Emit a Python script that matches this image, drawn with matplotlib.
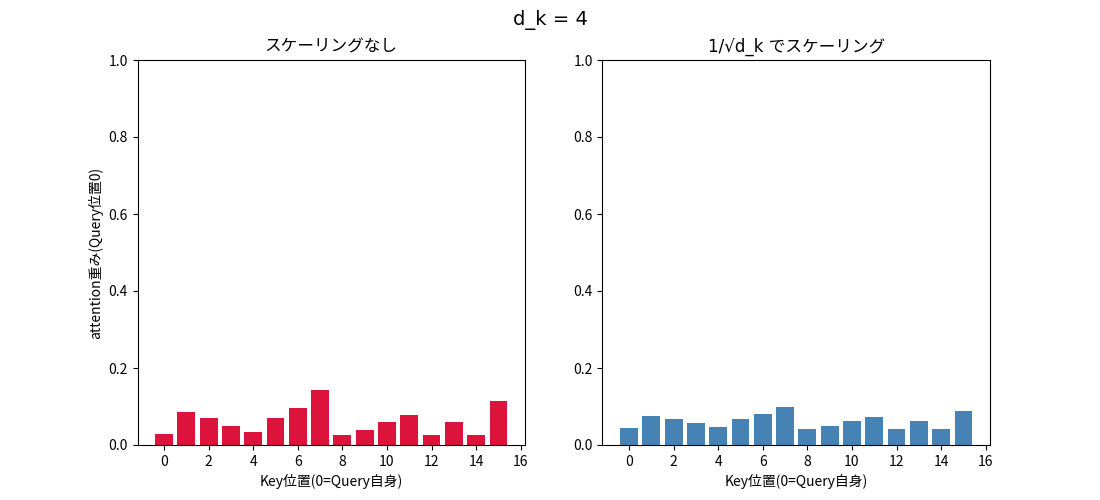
import matplotlib
matplotlib.use("Agg")
import matplotlib.pyplot as plt
import numpy as np

plt.rcParams['font.family'] = ['Noto Sans CJK JP', 'DejaVu Sans']

# attention weights for query position 0 (d_k = 4)
positions = np.arange(16)
weights_raw = [0.029, 0.086, 0.070, 0.049, 0.034, 0.070, 0.096, 0.143,
               0.026, 0.039, 0.060, 0.078, 0.026, 0.060, 0.026, 0.114]
weights_scaled = [0.044, 0.075, 0.068, 0.057, 0.047, 0.068, 0.081, 0.099,
                  0.042, 0.049, 0.062, 0.073, 0.042, 0.062, 0.042, 0.088]

fig, axes = plt.subplots(1, 2, figsize=(11, 5))

axes[0].bar(positions, weights_raw, color='crimson')
axes[0].set_title("スケーリングなし")
axes[0].set_xlabel("Key位置(0=Query自身)")
axes[0].set_ylabel("attention重み(Query位置0)")
axes[0].set_ylim(0, 1)

axes[1].bar(positions, weights_scaled, color='steelblue')
# DejaVu first so the root sign is drawn properly
axes[1].set_title("1/√d_k でスケーリング", family=['DejaVu Sans', 'Noto Sans CJK JP'])
axes[1].set_xlabel("Key位置(0=Query自身)")
axes[1].set_ylim(0, 1)

fig.suptitle("d_k = 4", fontsize=14, family=['DejaVu Sans'])

plt.savefig("out.png", dpi=100)
